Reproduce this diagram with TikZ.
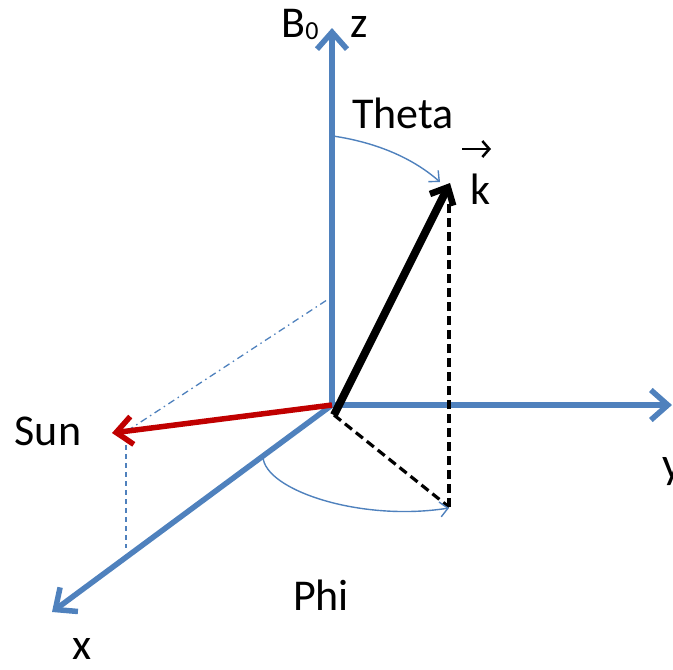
\documentclass[tikz,border=0pt]{standalone}
\usepackage{fontspec}
\setmainfont{Carlito}
\usetikzlibrary{arrows.meta}
\definecolor{axblue}{RGB}{79,129,189}
\definecolor{sunred}{RGB}{192,0,0}
\begin{document}
\begin{tikzpicture}[x=1pt,y=-1pt,
  axis/.style={draw=axblue,line width=5.5pt,-{Straight Barb[length=17pt,width=30pt,line width=5.5pt]}},
  thinarc/.style={draw=axblue,line width=1.4pt,-{Straight Barb[length=8pt,width=15pt,line width=1.4pt]}},
  lbl/.style={font=\fontsize{44}{48}\selectfont,inner sep=0pt,anchor=base}]
\useasboundingbox (0,0) rectangle (673,670);
\coordinate (O) at (332,405);
\coordinate (zt) at (332,28);
\coordinate (yt) at (672,405);
\coordinate (xt) at (52,612);
\coordinate (sun) at (112,433);
\coordinate (sunb) at (126,548);
\coordinate (dd) at (330,298);
\coordinate (k0) at (334,415);
\coordinate (kt) at (450,183);
\coordinate (kb) at (449,507);
\coordinate (th0) at (333,136);
\coordinate (th1) at (440,182);
\coordinate (ph0) at (263,457);
\coordinate (ph1) at (449,508);
% thin guide lines
\draw[axblue,line width=1.3pt,dash pattern=on 7pt off 4pt on 1.5pt off 4pt] (127,431) -- (dd);
\draw[axblue,line width=1.3pt,dash pattern=on 5pt off 4pt] (126,436) -- (sunb);
% axes
\draw[axis] (O) -- (zt);
\draw[axis] (O) -- (yt);
\draw[axis] (O) -- (xt);
% dashed projections
\draw[black,line width=3.2pt,dash pattern=on 9pt off 5pt] (kb) -- (449,200);
\draw[black,line width=3.2pt,dash pattern=on 9pt off 5pt] (k0) -- (kb);
% sun vector
\draw[sunred,line width=5.5pt,-{Straight Barb[length=16pt,width=28pt,line width=5.5pt]}] (O) -- (sun);
% k vector
\draw[black,line width=8pt,-{Straight Barb[length=14pt,width=26pt,line width=6.5pt]}] (k0) -- (kt);
% angle arcs
\draw[thinarc] (th0) .. controls (380,143) and (415,160) .. (th1);
\draw[thinarc] (ph0) .. controls (265,490) and (360,522) .. (ph1);
% labels
\node[lbl] (B0) at (300,37) {B{\fontsize{26}{28}\selectfont\raisebox{-2pt}{0}}};
\node[lbl] (zl) at (359,37) {z};
\node[lbl] (theta) at (403,128) {Theta};
\node[lbl] (kl) at (480,204) {k};
\draw[black,line width=2.5pt,-{Straight Barb[length=7pt,width=16pt,line width=2.5pt]}] (462,149) -- (491,149);
\node[lbl] (sunl) at (48,445) {Sun};
\node[lbl] (yl) at (672,478) {y};
\node[lbl] (xl) at (82,659) {x};
\node[lbl] (phi) at (321,610) {Phi};
\end{tikzpicture}
\end{document}
